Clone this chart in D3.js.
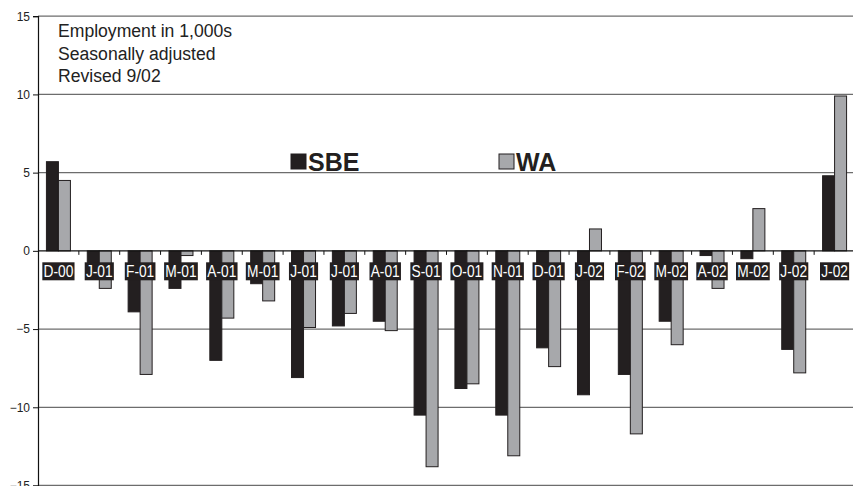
<!DOCTYPE html>
<html>
<head>
<meta charset="utf-8">
<script src="https://cdn.jsdelivr.net/npm/d3@7"></script>
<style>
  html, body { margin: 0; padding: 0; background: #fff; }
  svg { display: block; font-family: "Liberation Sans", Arial, sans-serif; }
</style>
</head>
<body>
<svg id="chart" width="853" height="486"></svg>
<script>
// Monthly change in employment, thousands, seasonally adjusted
const months = ["D-00","J-01","F-01","M-01","A-01","M-01","J-01","J-01","A-01","S-01",
                "O-01","N-01","D-01","J-02","F-02","M-02","A-02","M-02","J-02","J-02"];
const sbe = [5.7, -1.8, -3.9, -2.4, -7.0, -2.1, -8.1, -4.8, -4.5, -10.5,
             -8.8, -10.5, -6.2, -9.2, -7.9, -4.5, -0.3, -0.5, -6.3, 4.8];
const wa  = [4.5, -2.4, -7.9, -0.3, -4.3, -3.2, -4.9, -4.0, -5.1, -13.8,
             -8.5, -13.1, -7.4, 1.4, -11.7, -6.0, -2.4, 2.7, -7.8, 9.9];
const yTicks = [15, 10, 5, 0, -5, -10, -15];
const seriesNames = ["SBE", "WA"];
const notes = ["Employment in 1,000s", "Seasonally adjusted", "Revised 9/02"];

const svg = d3.select("#chart");
const colors = { SBE: "#231f20", WA: "#a7a8ab" };

const x0 = d3.scaleBand().domain(d3.range(months.length)).range([38, 855]);
const y = d3.scaleLinear().domain([-15, 15]).range([485.5, 16.2]);
const barW = 12;

// horizontal gridlines
svg.append("g").selectAll("line").data(yTicks.filter(d => d !== 0)).join("line")
  .attr("x1", 38).attr("x2", 853)
  .attr("y1", d => y(d)).attr("y2", d => y(d))
  .attr("stroke", "#6d6d6d").attr("stroke-width", 1.3);

// left axis
const yAxis = d3.axisLeft(y).tickValues(yTicks).tickSize(5).tickPadding(3);
const ga = svg.append("g").attr("transform", "translate(38,0)").call(yAxis);
ga.select(".domain").attr("stroke", "#111").attr("stroke-width", 1.2);
ga.selectAll(".tick line").attr("stroke", "#111");
ga.selectAll(".tick text").attr("font-size", 12).attr("fill", "#222")
  .attr("font-family", "Liberation Sans, Arial, sans-serif");

// bars
const rows = months.map((m, i) => ({ i, SBE: sbe[i], WA: wa[i] }));
const gBars = svg.append("g");
seriesNames.forEach((s, k) => {
  gBars.selectAll("rect." + s).data(rows).join("rect")
    .attr("class", s)
    .attr("x", d => x0(d.i) + x0.bandwidth() / 2 - barW + k * barW)
    .attr("width", barW)
    .attr("y", d => Math.min(y(d[s]), y(0)))
    .attr("height", d => Math.abs(y(d[s]) - y(0)))
    .attr("fill", colors[s])
    .attr("stroke", "#231f20").attr("stroke-width", 1);
});

// zero line with category boundary ticks
svg.append("line").attr("x1", 38).attr("x2", 853)
  .attr("y1", y(0)).attr("y2", y(0)).attr("stroke", "#111").attr("stroke-width", 1.2);
svg.append("g").selectAll("line").data(d3.range(1, months.length)).join("line")
  .attr("x1", d => x0(d)).attr("x2", d => x0(d))
  .attr("y1", y(0)).attr("y2", y(0) + 4)
  .attr("stroke", "#111").attr("stroke-width", 1);

// category labels: white, slightly condensed text on black boxes
const gLab = svg.append("g");
months.forEach((m, i) => {
  const cx = x0(i) + x0.bandwidth() / 2;
  const g = gLab.append("g").attr("transform", `translate(${cx},0)`);
  const t = g.append("text").attr("x", 0).attr("y", 277.3)
    .attr("transform", "scale(0.86,1)")
    .attr("text-anchor", "middle").attr("font-size", 16).attr("fill", "#fff").text(m);
  const w = t.node().getBBox().width * 0.86;
  g.insert("rect", "text").attr("x", -w / 2 - 1.2).attr("y", 262.3)
    .attr("width", w + 2.4).attr("height", 18).attr("fill", "#231f20");
});

// notes
svg.append("g").selectAll("text").data(notes).join("text")
  .attr("x", 58).attr("y", (d, i) => 37 + i * 22.5)
  .attr("font-size", 17.6).attr("fill", "#222").text(d => d);

// legend
const legendX = [291, 499];
seriesNames.forEach((s, k) => {
  const g = svg.append("g").attr("transform", `translate(${legendX[k]},154)`);
  g.append("rect").attr("width", 15).attr("height", 15)
    .attr("fill", colors[s]).attr("stroke", "#231f20").attr("stroke-width", 1);
  g.append("text").attr("x", 17).attr("y", 16.5).attr("font-size", 25)
    .attr("font-weight", "bold").attr("fill", "#231f20").text(s);
});
</script>
</body>
</html>
